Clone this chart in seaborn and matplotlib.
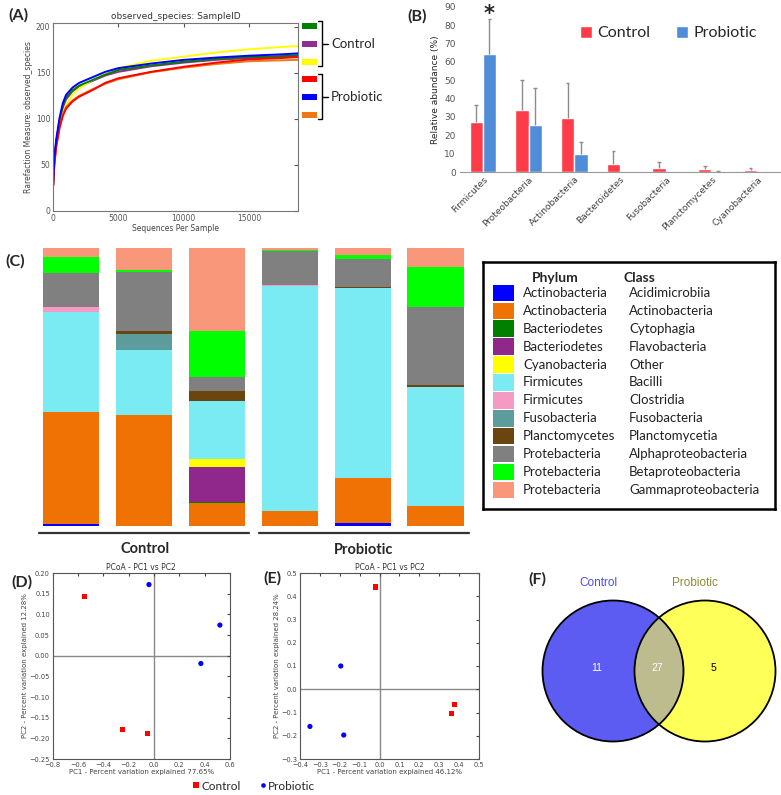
import numpy as np
import pandas as pd
import matplotlib.pyplot as plt
import seaborn as sns
from matplotlib.patches import Rectangle, Circle

W, H = 781, 795

# ---- (A) rarefaction curves ----
depths = [10, 100, 250, 500, 750, 1000, 1500, 2000, 3000, 4000, 5000,
          7500, 10000, 12500, 15000, 17500, 18760]
rare_purple = [28, 54, 74, 97, 112, 121, 130, 135, 141, 147, 151, 157, 161, 164, 166, 167.5, 168]
rare_yellow = [28, 50, 70, 92, 106, 115, 126, 133, 142, 149, 155, 163, 167.5, 172, 175.5, 178, 179]
rare_green = [28, 55, 75, 98, 114, 123, 131, 136, 142, 148, 153, 158, 162, 165, 167, 168, 169]
rare_orange = [27, 51, 71, 91, 105, 113, 120, 125, 132, 138, 143, 150.5, 155.5, 159.5, 162.5, 163.5, 164]
rare_red = [27, 50, 70, 90, 103, 111, 119, 124, 131, 139, 144, 151, 156.5, 161, 164.5, 166, 167]
rare_blue = [28, 58, 78, 101, 117, 126, 134, 139, 145, 151, 155, 160, 164, 166.5, 168.5, 170, 171]
rare_colors = {"purple": "#912F8F", "yellow": "#FFFF00", "green": "#008000",
               "orange": "#F07814", "red": "#FF0000", "blue": "#0000FF"}

# ---- (B) relative abundance ----
phyla = ["Firmicutes", "Proteobacteria", "Actinobacteria", "Bacteroidetes",
         "Fusobacteria", "Planctomycetes", "Cyanobacteria"]
ctrl_mean = [27.0, 34.0, 29.5, 4.2, 2.0, 1.5, 1.0]
ctrl_err = [9.5, 16.0, 18.8, 7.5, 3.6, 1.9, 1.4]
prob_mean = [64.0, 25.5, 10.0, 0.1, 0.1, 0.5, 0.1]
prob_err = [19.5, 20.5, 6.3, 0.0, 0.0, 0.1, 0.0]

# ---- (C) class composition per sample (%) ----
samples = ["C1", "C2", "C3", "P1", "P2", "P3"]
acidimicrobiia = [0.5, 0, 0, 0, 1.0, 0]
actinobacteria = [40.4, 39.9, 8.3, 5.4, 16.1, 7.2]
cytophagia = [0, 0, 0.3, 0, 0, 0]
flavobacteria = [0, 0, 12.5, 0, 0, 0]
other_cyano = [0, 0, 3.0, 0, 0, 0]
bacilli = [36.2, 23.2, 20.7, 80.8, 68.4, 42.9]
clostridia = [1.8, 0, 0, 0.4, 0, 0]
fusobacteriia = [0, 6.0, 0, 0, 0, 0]
planctomycetia = [0, 1.1, 3.8, 0, 0.4, 0.6]
alphaproteo = [12.0, 21.2, 4.8, 12.3, 10.0, 27.9]
betaproteo = [5.8, 0.5, 16.8, 0.2, 1.7, 14.4]
gammaproteo = [3.3, 8.1, 29.8, 0.9, 2.4, 7.0]
class_values = [acidimicrobiia, actinobacteria, cytophagia, flavobacteria, other_cyano,
                bacilli, clostridia, fusobacteriia, planctomycetia, alphaproteo,
                betaproteo, gammaproteo]
leg_phylum = ["Actinobacteria", "Actinobacteria", "Bacteriodetes", "Bacteriodetes",
              "Cyanobacteria", "Firmicutes", "Firmicutes", "Fusobacteria",
              "Planctomycetes", "Protebacteria", "Protebacteria", "Protebacteria"]
leg_class = ["Acidimicrobiia", "Actinobacteria", "Cytophagia", "Flavobacteria", "Other",
             "Bacilli", "Clostridia", "Fusobacteria", "Planctomycetia",
             "Alphaproteobacteria", "Betaproteobacteria", "Gammaproteobacteria"]
class_colors = ["#0000FF", "#F07204", "#007F00", "#8F288A", "#FFFF00", "#7BEBF3",
                "#F49AC4", "#5C9C9C", "#6B4510", "#808080", "#00FF00", "#F8977A"]

# ---- (D)/(E) PCoA ----
d_x = [-0.55, -0.25, -0.05, -0.04, 0.52, 0.37]
d_y = [0.143, -0.178, -0.189, 0.172, 0.074, -0.019]
d_group = ["Control", "Control", "Control", "Probiotic", "Probiotic", "Probiotic"]
e_x = [-0.02, 0.375, 0.36, -0.195, -0.35, -0.18]
e_y = [0.44, -0.065, -0.105, 0.10, -0.16, -0.197]
e_group = ["Control", "Control", "Control", "Probiotic", "Probiotic", "Probiotic"]

# ---- (F) Venn counts ----
venn_counts = [11, 27, 5]

sns.set_style("white")
plt.rcParams['font.family'] = ['DejaVu Sans']
LATO = ['Lato', 'DejaVu Sans']

fig = plt.figure(figsize=(W / 100, H / 100), dpi=100)


def px_axes(x0, y0, x1, y1):
    return fig.add_axes([x0 / W, 1 - y1 / H, (x1 - x0) / W, (y1 - y0) / H])


def ftext(x, y, s, **kw):
    fig.text(x / W, 1 - y / H, s, **kw)


# ================= (A) =================
ax_a = px_axes(53, 23, 298, 211)
rows = []
for name, vals in [("purple", rare_purple), ("yellow", rare_yellow), ("green", rare_green),
                   ("orange", rare_orange), ("red", rare_red), ("blue", rare_blue)]:
    for d, v in zip(depths, vals):
        rows.append({"sample": name, "depth": d, "obs": v})
df_a = pd.DataFrame(rows)
sns.lineplot(data=df_a, x="depth", y="obs", hue="sample", palette=rare_colors,
             linewidth=1.4, legend=False, ax=ax_a)
ax_a.set_xlim(0, 18760)
ax_a.set_ylim(0, 204)
ax_a.set_xticks([0, 5000, 10000, 15000])
ax_a.set_yticks([0, 50, 100, 150, 200])
ax_a.tick_params(direction='in', top=True, right=True, length=3, labelsize=5.5,
                 colors='#555555', pad=2)
for s in ax_a.spines.values():
    s.set_color('#777777')
    s.set_linewidth(0.8)
ax_a.set_xlabel("Sequences Per Sample", fontsize=5.5, color='#444444', labelpad=1)
ax_a.set_ylabel("Rarefaction Measure: observed_species", fontsize=5.5, color='#444444', labelpad=2)
ax_a.set_title("observed_species: SampleID", fontsize=6.5, color='#333333', pad=3)

# ================= (B) =================
ax_b = px_axes(460, 6.7, 780, 172)
df_b = pd.DataFrame({"Phylum": phyla * 2,
                     "Group": ["Control"] * 7 + ["Probiotic"] * 7,
                     "Value": ctrl_mean + prob_mean})
pal_b = {"Control": "#FF3B47", "Probiotic": "#4F8DD8"}
sns.barplot(data=df_b, x="Phylum", y="Value", hue="Group", palette=pal_b,
            width=0.58, saturation=1, errorbar=None, ax=ax_b, legend=True)
bars = ax_b.patches[:14]
errs = ctrl_err + prob_err
means = ctrl_mean + prob_mean
for p, m, e in zip(bars, means, errs):
    if e <= 0:
        continue
    cx = p.get_x() + p.get_width() / 2
    ax_b.vlines(cx, m, m + e, color='#8C8C8C', lw=1)
    ax_b.hlines(m + e, cx - 0.04, cx + 0.04, color='#8C8C8C', lw=1)
star_x = bars[7].get_x() + bars[7].get_width() / 2
ax_b.text(star_x, 86, "*", ha='center', va='center', fontsize=15, fontweight='bold')
ax_b.set_xlim(-0.5, 6.5)
ax_b.set_ylim(0, 90)
ax_b.set_yticks(range(0, 91, 10))
ax_b.set_xlabel("")
ax_b.set_ylabel("Relative abundance (%)", fontsize=6.5, labelpad=3)
ax_b.tick_params(axis='y', labelsize=6.5, colors='#555555', length=0, pad=3)
ax_b.tick_params(axis='x', labelsize=6.5, colors='#404040', length=0, pad=2)
plt.setp(ax_b.get_xticklabels(), rotation=45, ha='right', rotation_mode='anchor')
sns.despine(ax=ax_b, left=True)
ax_b.spines['bottom'].set_color('#999999')
leg = ax_b.legend(loc='center left', bbox_to_anchor=(0.33, 0.84), ncol=2, frameon=False,
                  handlelength=0.75, handleheight=0.75, handletextpad=0.35,
                  columnspacing=1.6, prop={'family': LATO, 'size': 11.5})

# ================= (C) =================
ax_c = px_axes(34.5, 248, 472, 525.7)
bottom = np.zeros(6)
for vals, col in zip(class_values, class_colors):
    ax_c.bar(range(6), vals, bottom=bottom, width=0.77, color=col, linewidth=0)
    bottom += np.array(vals)
ax_c.set_xlim(-0.5, 5.5)
ax_c.set_ylim(0, 100)
ax_c.axis('off')

# legend box for (C)
ax_l = px_axes(483, 262, 775, 509)
ax_l.set_xlim(483, 775)
ax_l.set_ylim(509, 262)
ax_l.set_xticks([])
ax_l.set_yticks([])
for s in ax_l.spines.values():
    s.set_linewidth(1.8)
    s.set_color('black')
ax_l.text(532, 278, "Phylum", fontsize=10, fontweight='bold', family=LATO, va='center')
ax_l.text(624, 278, "Class", fontsize=10, fontweight='bold', family=LATO, va='center')
for i in range(12):
    yc = 293 + i * 17.9
    ax_l.add_patch(Rectangle((493, yc - 8.3), 21, 16.6, color=class_colors[i], lw=0))
    ax_l.text(523, yc, leg_phylum[i], fontsize=9.5, family=LATO, va='center', color='#222222')
    ax_l.text(629, yc, leg_class[i], fontsize=9.5, family=LATO, va='center', color='#222222')

# ================= (D) & (E) =================
pal_de = {"Control": "#FF0000", "Probiotic": "#0000FF"}
mk_de = {"Control": "s", "Probiotic": "o"}


def pcoa(ax, xs, ys, groups, xlim, ylim, xticks, yticks, xlab, ylab):
    df = pd.DataFrame({"PC1": xs, "PC2": ys, "Group": groups})
    ax.axhline(0, color='#888888', lw=1, zorder=0)
    ax.axvline(0, color='#888888', lw=1, zorder=0)
    sns.scatterplot(data=df, x="PC1", y="PC2", hue="Group", style="Group",
                    palette=pal_de, markers=mk_de, s=14, linewidth=0,
                    legend=False, ax=ax, zorder=3)
    ax.set_xlim(*xlim)
    ax.set_ylim(*ylim)
    ax.set_xticks(xticks)
    ax.set_yticks(yticks)
    ax.tick_params(direction='in', top=True, right=True, length=2.5, labelsize=4.8,
                   colors='#444444', pad=2)
    for s in ax.spines.values():
        s.set_color('#555555')
        s.set_linewidth(0.8)
    ax.set_xlabel(xlab, fontsize=5, color='#444444', labelpad=1)
    ax.set_ylabel(ylab, fontsize=5, color='#444444', labelpad=1)
    ax.set_title("PCoA - PC1 vs PC2", fontsize=5.5, color='#333333', pad=2)


ax_d = px_axes(52.7, 573, 230, 759)
pcoa(ax_d, d_x, d_y, d_group, (-0.8, 0.6), (-0.25, 0.20),
     np.round(np.arange(-0.8, 0.61, 0.2), 1), np.round(np.arange(-0.25, 0.201, 0.05), 2),
     "PC1 - Percent variation explained 77.65%", "PC2 - Percent variation explained 12.28%")
ax_e = px_axes(300, 573, 479, 759)
pcoa(ax_e, e_x, e_y, e_group, (-0.4, 0.5), (-0.3, 0.5),
     np.round(np.arange(-0.4, 0.51, 0.1), 1), np.round(np.arange(-0.3, 0.51, 0.1), 1),
     "PC1 - Percent variation explained 46.12%", "PC2 - Percent variation explained 28.24%")

# ================= (F) Venn =================
ax_f = px_axes(520, 560, 781, 760)
ax_f.set_xlim(520, 781)
ax_f.set_ylim(760, 560)
ax_f.axis('off')
left_c = Circle((613, 671), 70.5, facecolor="#5C5CF2", edgecolor='none')
right_c = Circle((705, 671), 70.5, facecolor="#FFFF5A", edgecolor='none')
ax_f.add_patch(left_c)
ax_f.add_patch(right_c)
overlap = Circle((705, 671), 70.5, facecolor="#BDBC8F", edgecolor='none')
ax_f.add_patch(overlap)
overlap.set_clip_path(Circle((613, 671), 70.5, transform=ax_f.transData))
ax_f.add_patch(Circle((613, 671), 70.5, fill=False, edgecolor='black', lw=1.3))
ax_f.add_patch(Circle((705, 671), 70.5, fill=False, edgecolor='black', lw=1.3))
ax_f.text(597, 668, str(venn_counts[0]), color='white', fontsize=7.5, ha='center', va='center',
          family=['Liberation Sans', 'DejaVu Sans'])
ax_f.text(657, 668, str(venn_counts[1]), color='white', fontsize=7.5, ha='center', va='center',
          family=['Liberation Sans', 'DejaVu Sans'])
ax_f.text(713, 668, str(venn_counts[2]), color='black', fontsize=7.5, ha='center', va='center',
          family=['Liberation Sans', 'DejaVu Sans'])
ax_f.text(598, 583, "Control", color='#4B4BEE', fontsize=8.5, ha='center', va='center',
          family=['Liberation Sans', 'DejaVu Sans'])
ax_f.text(695, 583, "Probiotic", color='#8C8C33', fontsize=8.5, ha='center', va='center',
          family=['Liberation Sans', 'DejaVu Sans'])

# ================= overlay: brackets, group lines, labels =================
ov = fig.add_axes([0, 0, 1, 1], zorder=10)
ov.set_xlim(0, W)
ov.set_ylim(H, 0)
ov.axis('off')

# (A) legend swatches and brackets
for yc, col in zip([26, 44, 62, 79.3, 97, 114.7],
                   ["#008000", "#912F8F", "#FFFF00", "#FF0000", "#0000FF", "#F07814"]):
    ov.add_patch(Rectangle((302, yc - 3), 15, 6, color=col, lw=0))
for y0, y1, ym, lab in [(21, 66, 44, "Control"), (74, 119.3, 97, "Probiotic")]:
    ov.plot([318, 322, 322, 318], [y0, y0, y1, y1], color='black', lw=1)
    ov.plot([322, 328], [ym, ym], color='black', lw=1)
    ov.text(331, ym, lab, fontsize=9.5, family=LATO, va='center', ha='left')

# (C) group lines and labels
ov.plot([39, 249], [533, 533], color='#333333', lw=1.6)
ov.plot([259, 469], [533, 533], color='#333333', lw=1.6)
ov.text(145, 549, "Control", fontsize=10.5, fontweight='bold', family=LATO, ha='center', va='center')
ov.text(364, 550, "Probiotic", fontsize=10.5, fontweight='bold', family=LATO, ha='center', va='center')

# bottom legend for D/E
ov.add_patch(Rectangle((193, 782), 5.5, 5.5, color="#FF0000", lw=0))
ov.text(201, 786, "Control", fontsize=8.5, family=LATO, va='center', ha='left')
ov.add_patch(Circle((263.5, 785.5), 2.3, color="#0000FF", lw=0))
ov.text(267.5, 786, "Probiotic", fontsize=8.5, family=LATO, va='center', ha='left')

# panel letters
for x, y, lab in [(18, 15, "(A)"), (417, 16, "(B)"), (15, 261, "(C)"),
                  (22, 582, "(D)"), (272, 578, "(E)"), (537, 579, "(F)")]:
    ov.text(x, y, lab, fontsize=11.5, fontweight='bold', family=LATO, ha='center', va='center')

fig.savefig("out.png", dpi=100)
